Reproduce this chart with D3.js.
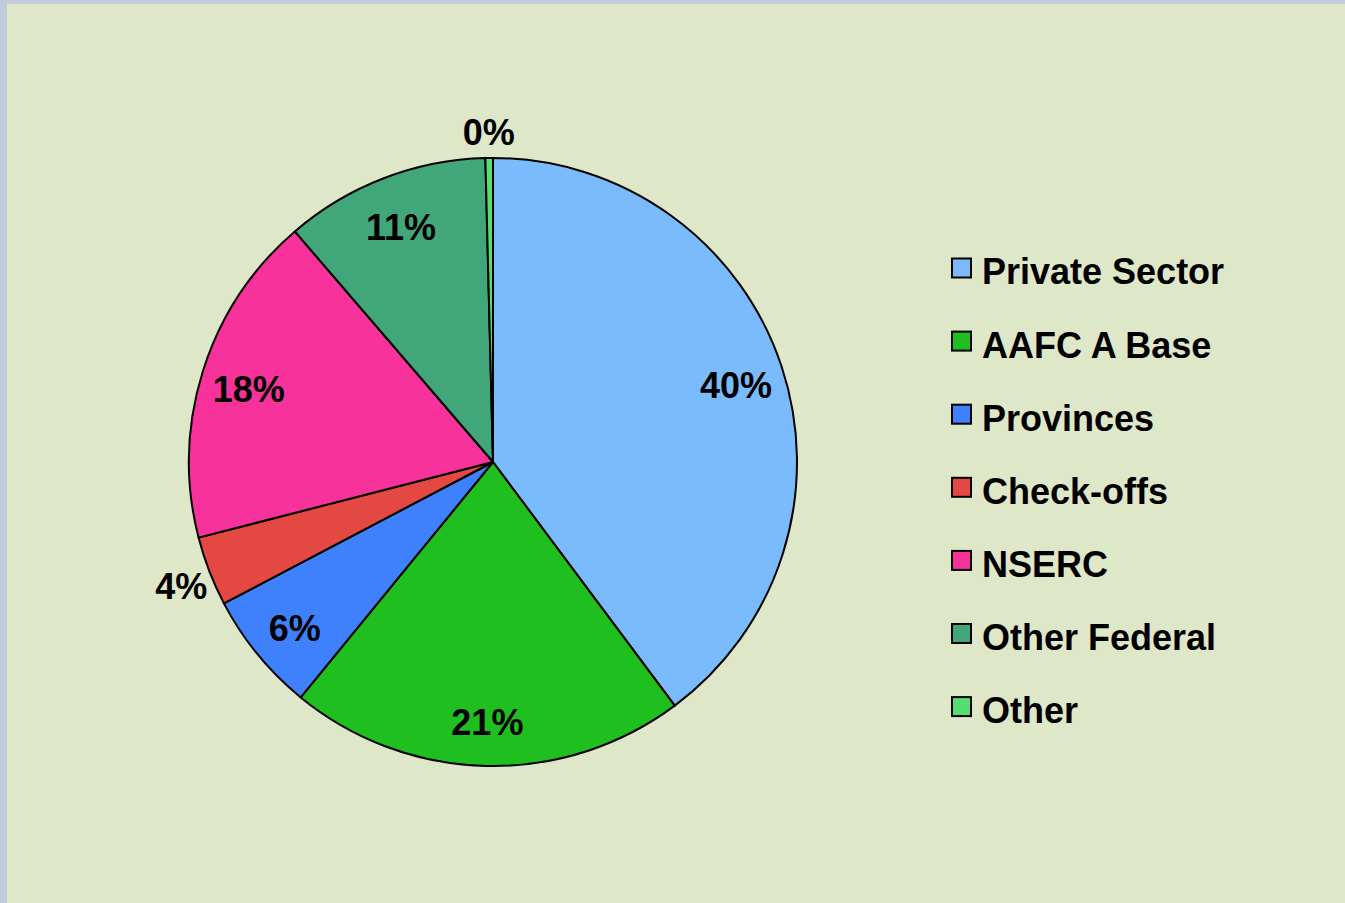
<!DOCTYPE html>
<html>
<head>
<meta charset="utf-8">
<script src="https://cdn.jsdelivr.net/npm/d3@7"></script>
<style>
  html, body { margin: 0; padding: 0; background: #c3cadc; }
  svg { display: block; }
  text { font-family: "Liberation Sans", Arial, Helvetica, sans-serif; font-weight: bold; fill: #000; }
</style>
</head>
<body>
<script>
var categories = ["Private Sector", "AAFC A Base", "Provinces", "Check-offs", "NSERC", "Other Federal", "Other"];
var values = [39.8, 21.1, 6.4, 3.7, 17.7, 10.9, 0.4];
var colors = ["#79bbfd", "#1fbf1f", "#3f80fc", "#e34842", "#f7329a", "#42a67b", "#56de73"];

var width = 1345,
    height = 903,
    cx = 493,
    cy = 462,
    radius = 304;

var svg = d3.select("body").append("svg")
    .attr("width", width)
    .attr("height", height);

// panel background inside the frame
svg.append("rect")
    .attr("x", 7)
    .attr("y", 4)
    .attr("width", width - 7)
    .attr("height", height - 4)
    .attr("fill", "#dfe7c9");

var pie = d3.pie()
    .value(function(d) { return d; })
    .sort(null);

var arc = d3.arc()
    .innerRadius(0)
    .outerRadius(radius);

var inLabel = d3.arc().innerRadius(256).outerRadius(256);
var outLabel = d3.arc().innerRadius(334).outerRadius(334);

var g = svg.append("g")
    .attr("transform", "translate(" + cx + "," + cy + ")");

var arcs = pie(values);

g.selectAll(".slice")
    .data(arcs)
  .enter().append("path")
    .attr("class", "slice")
    .attr("d", arc)
    .attr("fill", function(d, i) { return colors[i]; })
    .attr("stroke", "#000")
    .attr("stroke-width", 2)
    .attr("stroke-linejoin", "round");

g.selectAll(".label")
    .data(arcs)
  .enter().append("text")
    .attr("class", "label")
    .attr("transform", function(d) {
      var c = (d.data < 5 ? outLabel : inLabel).centroid(d);
      return "translate(" + c[0] + "," + c[1] + ")";
    })
    .attr("text-anchor", "middle")
    .attr("dy", "0.47em")
    .style("font-size", "36px")
    .text(function(d) { return Math.round(d.data) + "%"; });

var legend = svg.append("g")
    .attr("transform", "translate(952,271.5)");

var row = legend.selectAll(".row")
    .data(categories)
  .enter().append("g")
    .attr("class", "row")
    .attr("transform", function(d, i) { return "translate(0," + (i * 73.1) + ")"; });

row.append("rect")
    .attr("x", 0)
    .attr("y", -13)
    .attr("width", 19)
    .attr("height", 19)
    .attr("fill", function(d, i) { return colors[i]; })
    .attr("stroke", "#000")
    .attr("stroke-width", 2);

row.append("text")
    .attr("x", 30)
    .attr("dy", "0.36em")
    .style("font-size", "36px")
    .text(function(d) { return d; });
</script>
</body>
</html>
